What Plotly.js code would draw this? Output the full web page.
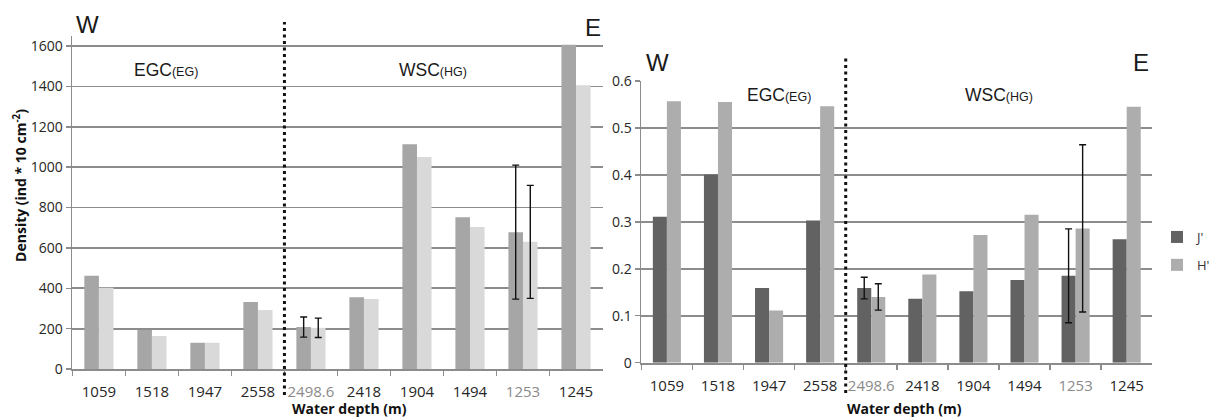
<!DOCTYPE html>
<html>
<head>
<meta charset="utf-8">
<script src="https://cdn.plot.ly/plotly-3.0.1.min.js"></script>
<style>html,body{margin:0;padding:0;background:#fff;}#chart{width:1215px;height:417px;}</style>
</head>
<body>
<div id="chart"></div>
<script>
// ---- data ----
const categories = ['1059','1518','1947','2558','2498.6','2418','1904','1494','1253','1245'];
const dimLabels = ['2498.6','1253'];
const densityA = [462,193,130,332,208,356,1114,752,678,1607];
const densityB = [403,163,130,292,204,347,1051,703,630,1406];
const densityAErr = [null,null,null,null,50,null,null,null,332,null];
const densityBErr = [null,null,null,null,48,null,null,null,280,null];
const jValues = [0.311,0.401,0.159,0.303,0.159,0.136,0.152,0.176,0.185,0.263];
const hValues = [0.557,0.555,0.111,0.546,0.140,0.188,0.272,0.315,0.286,0.545];
const jErr = [null,null,null,null,0.023,null,null,null,0.100,null];
const hErr = [null,null,null,null,0.028,null,null,null,0.178,null];
const seriesNames = ["J'","H'"];
const leftTicks = [0,200,400,600,800,1000,1200,1400,1600];
const rightTicks = [0,0.1,0.2,0.3,0.4,0.5,0.6];
const xTitle = 'Water depth (m)';
const yTitle = 'Density (ind * 10 cm<sup>-2</sup>)';

// ---- helpers ----
const W = 1215, H = 417;
const px = v => v / W;
const py = v => 1 - v / H;
const noNull = a => a.map(v => v === null ? NaN : v);
const tickText = categories.map(c => dimLabels.includes(c) ? '<span style="color:#8a8a8a">' + c + '</span>' : c);
const errStyle = {color:'#111', thickness:1.4, width:3.5};
const tickFont = {family:'Open Sans, sans-serif', size:14, color:'#262626'};
const xTickFont = {family:'Open Sans, sans-serif', size:15, color:'#262626'};
const titleFont = {family:'Open Sans, sans-serif', size:14, color:'#111', weight:'bold'};

const traces = [
  {type:'bar', x:categories, y:densityA, xaxis:'x', yaxis:'y', marker:{color:'#a6a6a6'}, showlegend:false,
   error_y:Object.assign({type:'data', array:noNull(densityAErr), visible:true}, errStyle), hoverinfo:'x+y'},
  {type:'bar', x:categories, y:densityB, xaxis:'x', yaxis:'y', marker:{color:'#d9d9d9'}, showlegend:false,
   error_y:Object.assign({type:'data', array:noNull(densityBErr), visible:true}, errStyle), hoverinfo:'x+y'},
  {type:'bar', name:seriesNames[0], legendgroup:'j', x:categories, y:jValues, xaxis:'x2', yaxis:'y2', marker:{color:'#626262'},
   error_y:Object.assign({type:'data', array:noNull(jErr), visible:true}, errStyle)},
  {type:'bar', name:seriesNames[1], legendgroup:'h', x:categories, y:hValues, xaxis:'x2', yaxis:'y2', marker:{color:'#adadad'},
   error_y:Object.assign({type:'data', array:noNull(hErr), visible:true}, errStyle)}
];

const xCommon = {
  type:'category', tickvals:categories, ticktext:tickText, tickson:'boundaries', tickangle:0,
  ticks:'outside', ticklen:5, tickwidth:1.5, tickcolor:'#8c8c8c', ticklabelstandoff:8,
  showline:true, linecolor:'#8c8c8c', linewidth:1.8, showgrid:false, zeroline:false,
  tickfont:xTickFont, fixedrange:true
};
const yCommon = {
  ticks:'outside', ticklen:5, tickwidth:1.5, tickcolor:'#8c8c8c',
  showline:true, linecolor:'#8c8c8c', linewidth:1.8,
  showgrid:true, gridcolor:'#8c8c8c', gridwidth:1.8, zeroline:false,
  tickfont:tickFont, fixedrange:true
};

const annFont = (s) => ({family:'Liberation Sans, Arial, sans-serif', size:s, color:'#1a1a1a'});
const ann = (x, y, text, size) => ({xref:'paper', yref:'paper', x:px(x), y:py(y), text:text, showarrow:false,
  xanchor:'center', yanchor:'middle', font:annFont(size)});
const titleAnn = (x, y, text, angle) => ({xref:'paper', yref:'paper', x:px(x), y:py(y), text:text, showarrow:false,
  xanchor:'center', yanchor:'middle', textangle:angle, font:titleFont});

const layout = {
  width:W, height:H, margin:{l:0, r:0, t:0, b:0},
  paper_bgcolor:'#fff', plot_bgcolor:'rgba(0,0,0,0)',
  barmode:'group', bargap:0.45, bargroupgap:0,
  xaxis: Object.assign({}, xCommon, {domain:[px(72.7), px(605)], anchor:'y'}),
  yaxis: Object.assign({}, yCommon, {domain:[1 - 369/H, 1 - 36/H], anchor:'x', range:[0,1650], tickvals:leftTicks}),
  xaxis2: Object.assign({}, xCommon, {domain:[px(644), px(1157)], anchor:'y2'}),
  yaxis2: Object.assign({}, yCommon, {domain:[1 - 362.7/H, 1 - 80.7/H], anchor:'x2', range:[0,0.6005],
    tickvals:rightTicks, tickformat:'.1~f'}),
  showlegend:true,
  legend:{x:px(1162), y:py(222), xanchor:'left', yanchor:'top', bgcolor:'rgba(0,0,0,0)',
    font:{family:'Open Sans, sans-serif', size:13, color:'#333'}, traceorder:'grouped', tracegroupgap:8},
  annotations:[
    titleAnn(351, 408, xTitle, 0), titleAnn(908, 408, xTitle, 0), titleAnn(20, 185, yTitle, -90),
    ann(88, 25, 'W', 24), ann(595, 27, 'E', 24),
    ann(167, 70, 'EGC<span style="font-size:12.5px">(EG)</span>', 17.5),
    ann(435, 70, 'WSC<span style="font-size:12.5px">(HG)</span>', 17.5),
    ann(660, 63, 'W', 24), ann(1146, 63, 'E', 24),
    ann(782, 95, 'EGC<span style="font-size:12.5px">(EG)</span>', 17.5),
    ann(1003, 95, 'WSC<span style="font-size:12.5px">(HG)</span>', 17.5)
  ],
  shapes:[
    {type:'line', xref:'x', yref:'paper', x0:3.5, x1:3.5, y0:py(395), y1:py(22), line:{color:'#111', width:3, dash:'3px,3.5px'}},
    {type:'line', xref:'x2', yref:'paper', x0:3.5, x1:3.5, y0:py(393), y1:py(55), line:{color:'#111', width:3, dash:'3px,3.5px'}}
  ]
};

Plotly.newPlot('chart', traces, layout, {displayModeBar:false, staticPlot:true});
</script>
</body>
</html>
